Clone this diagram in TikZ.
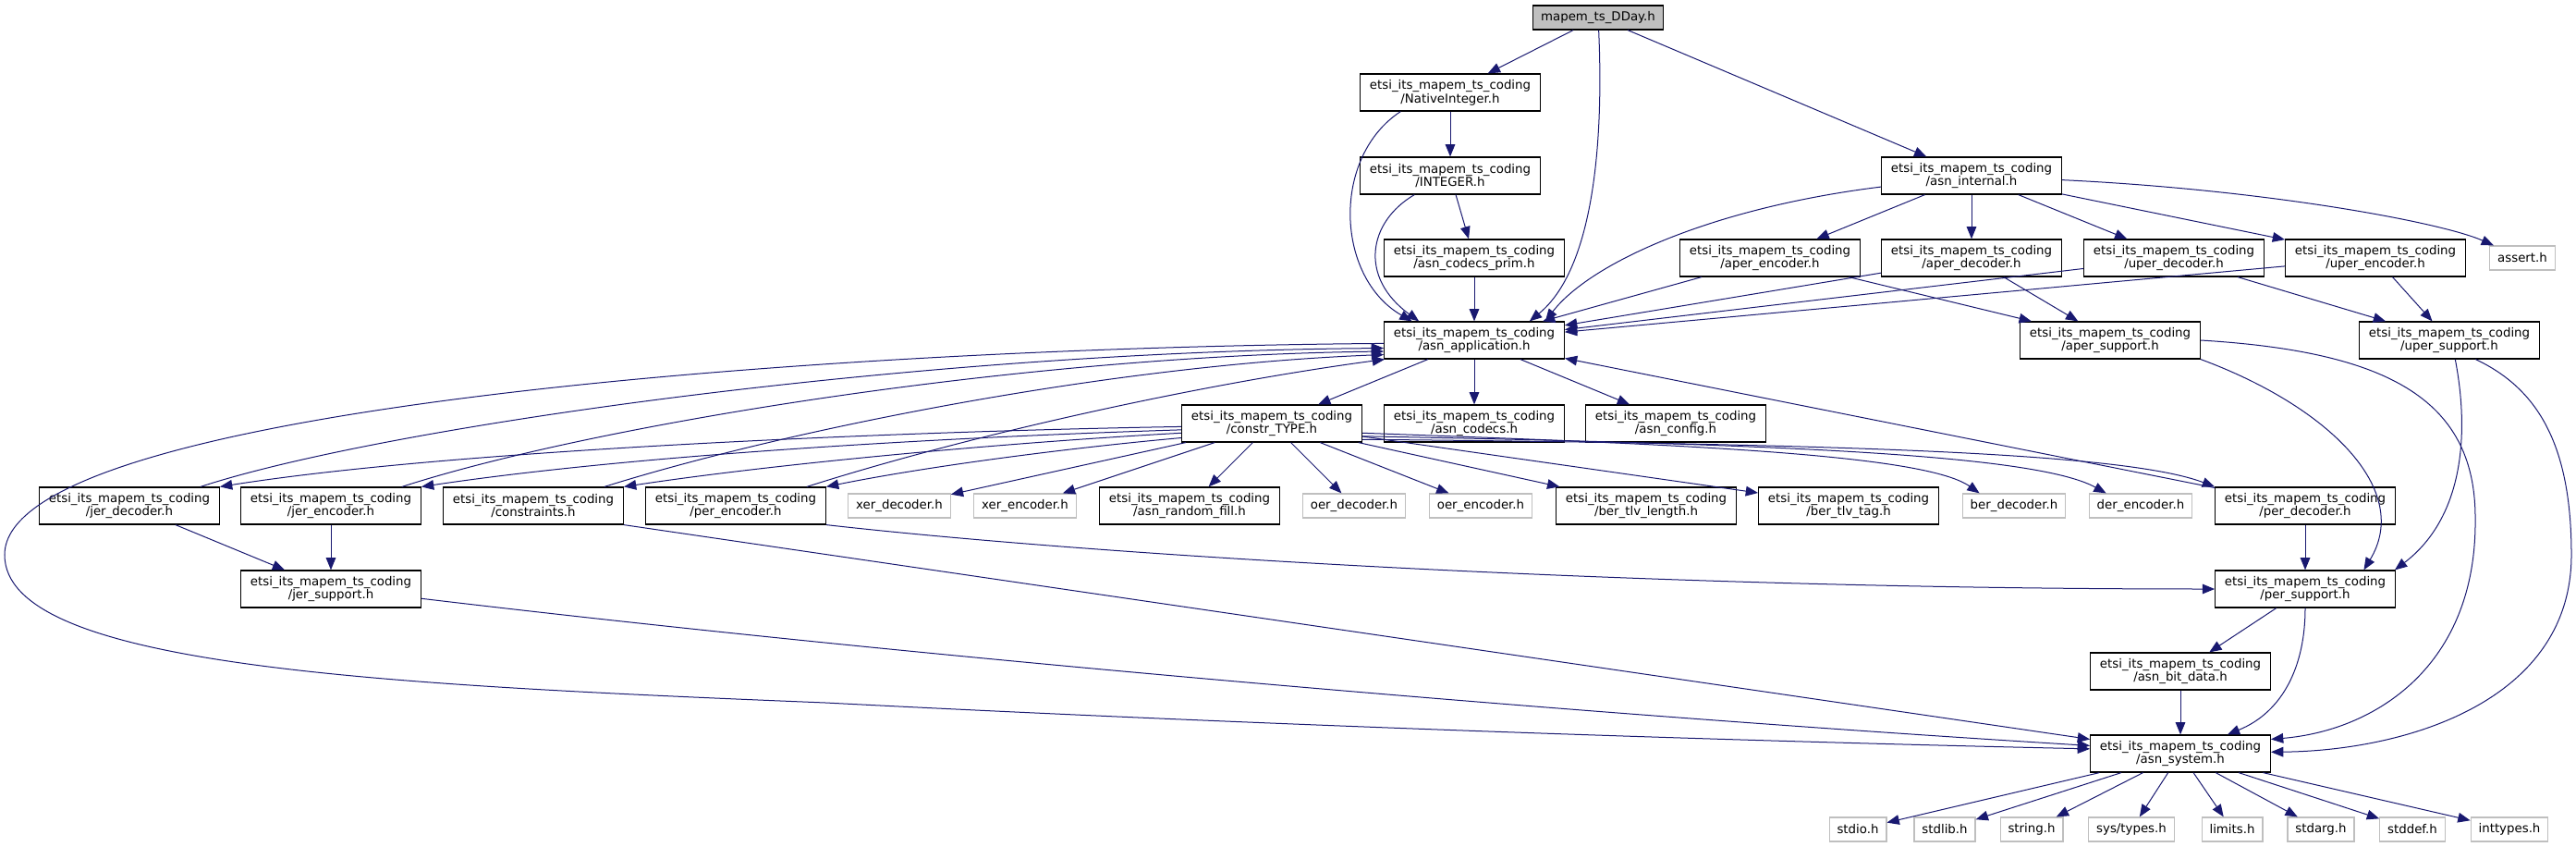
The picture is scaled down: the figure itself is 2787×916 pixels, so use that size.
\documentclass[tikz,border=0pt]{standalone}
\usepackage{fontspec}
\setmainfont{DejaVu Sans}
\usetikzlibrary{arrows.meta}
\definecolor{linkblue}{HTML}{191970}
\definecolor{grey75}{HTML}{BFBFBF}

\begin{document}
\begin{tikzpicture}[x=0.75pt,y=-0.75pt,
	file/.style={draw=black,line width=0.9pt,fill=white,minimum width=146pt,minimum height=30pt,inner sep=2pt,align=center,font=\fontsize{10}{11}\selectfont},
	sysfile/.style={draw=grey75,line width=0.9pt,fill=white,minimum height=19.5pt,inner xsep=6.3pt,inner ysep=2pt,font=\fontsize{10}{11}\selectfont},
	inc/.style={draw=linkblue,line width=0.75pt,-{Triangle[length=10pt,width=8pt]}}]
	\useasboundingbox (0,0) rectangle (2787,916);

	% files
	\node[file,fill=grey75,minimum width=0pt,minimum height=19.5pt,inner xsep=6.5pt] (dday) at (1729,19) {mapem\_ts\_DDay.h};
	\node[file] (nativeint) at (1569,100) {etsi\_its\_mapem\_ts\_coding\\/NativeInteger.h};
	\node[file] (integer) at (1569,190) {etsi\_its\_mapem\_ts\_coding\\/INTEGER.h};
	\node[file] (asninternal) at (2133,190) {etsi\_its\_mapem\_ts\_coding\\/asn\_internal.h};
	\node[file] (codecsprim) at (1595,279) {etsi\_its\_mapem\_ts\_coding\\/asn\_codecs\_prim.h};
	\node[file] (aperenc) at (1915,279) {etsi\_its\_mapem\_ts\_coding\\/aper\_encoder.h};
	\node[file] (aperdec) at (2133,279) {etsi\_its\_mapem\_ts\_coding\\/aper\_decoder.h};
	\node[file] (uperdec) at (2352,279) {etsi\_its\_mapem\_ts\_coding\\/uper\_decoder.h};
	\node[file] (uperenc) at (2570,279) {etsi\_its\_mapem\_ts\_coding\\/uper\_encoder.h};
	\node[sysfile] (assert) at (2729,279) {assert.h};
	\node[file] (asnapp) at (1595,368) {etsi\_its\_mapem\_ts\_coding\\/asn\_application.h};
	\node[file] (apersupp) at (2283,368) {etsi\_its\_mapem\_ts\_coding\\/aper\_support.h};
	\node[file] (upersupp) at (2650,368) {etsi\_its\_mapem\_ts\_coding\\/uper\_support.h};
	\node[file] (constr) at (1376,458) {etsi\_its\_mapem\_ts\_coding\\/constr\_TYPE.h};
	\node[file] (asncodecs) at (1595,458) {etsi\_its\_mapem\_ts\_coding\\/asn\_codecs.h};
	\node[file] (asnconfig) at (1813,458) {etsi\_its\_mapem\_ts\_coding\\/asn\_config.h};
	\node[file] (jerdec) at (140,547) {etsi\_its\_mapem\_ts\_coding\\/jer\_decoder.h};
	\node[file] (jerenc) at (358,547) {etsi\_its\_mapem\_ts\_coding\\/jer\_encoder.h};
	\node[file] (constraints) at (577,547) {etsi\_its\_mapem\_ts\_coding\\/constraints.h};
	\node[file] (perenc) at (796,547) {etsi\_its\_mapem\_ts\_coding\\/per\_encoder.h};
	\node[sysfile] (xerdec) at (973,547) {xer\_decoder.h};
	\node[sysfile] (xerenc) at (1109,547) {xer\_encoder.h};
	\node[file] (randfill) at (1287,547) {etsi\_its\_mapem\_ts\_coding\\/asn\_random\_fill.h};
	\node[sysfile] (oerdec) at (1465,547) {oer\_decoder.h};
	\node[sysfile] (oerenc) at (1602,547) {oer\_encoder.h};
	\node[file] (tlvlen) at (1781,547) {etsi\_its\_mapem\_ts\_coding\\/ber\_tlv\_length.h};
	\node[file] (tlvtag) at (2000,547) {etsi\_its\_mapem\_ts\_coding\\/ber\_tlv\_tag.h};
	\node[sysfile] (berdec) at (2179,547) {ber\_decoder.h};
	\node[sysfile] (derenc) at (2316,547) {der\_encoder.h};
	\node[file] (perdec) at (2494,547) {etsi\_its\_mapem\_ts\_coding\\/per\_decoder.h};
	\node[file] (jersupp) at (358,637) {etsi\_its\_mapem\_ts\_coding\\/jer\_support.h};
	\node[file] (persupp) at (2494,637) {etsi\_its\_mapem\_ts\_coding\\/per\_support.h};
	\node[file] (bitdata) at (2359,726) {etsi\_its\_mapem\_ts\_coding\\/asn\_bit\_data.h};
	\node[file] (asnsys) at (2359,815) {etsi\_its\_mapem\_ts\_coding\\/asn\_system.h};
	\node[sysfile] (stdio) at (2010,897) {stdio.h};
	\node[sysfile] (stdlib) at (2104,897) {stdlib.h};
	\node[sysfile] (string) at (2198,897) {string.h};
	\node[sysfile] (systypes) at (2306,897) {sys/types.h};
	\node[sysfile] (limits) at (2415,897) {limits.h};
	\node[sysfile] (stdarg) at (2511,897) {stdarg.h};
	\node[sysfile] (stddef) at (2610,897) {stddef.h};
	\node[sysfile] (inttypes) at (2715,897) {inttypes.h};

	% top part
	\draw[inc] (dday) -- (nativeint);
	\draw[inc] (dday) .. controls (1735,150) and (1725,290) .. (asnapp.19);
	\draw[inc] (dday) -- (asninternal);
	\draw[inc] (nativeint) -- (integer);
	\draw[inc] (nativeint.201) .. controls (1440,170) and (1445,300) .. (asnapp.163);
	\draw[inc] (integer) -- (codecsprim);
	\draw[inc] (integer.208) .. controls (1480,240) and (1470,300) .. (asnapp.161);
	\draw[inc] (codecsprim) -- (asnapp);
	\draw[inc] (asninternal) .. controls (1850,225) and (1720,285) .. (asnapp.15);
	\draw[inc] (asninternal) -- (aperenc);
	\draw[inc] (asninternal) -- (aperdec);
	\draw[inc] (asninternal) -- (uperdec);
	\draw[inc] (asninternal) -- (uperenc);
	\draw[inc] (asninternal) .. controls (2450,205) and (2640,240) .. (assert);
	\draw[inc] (aperenc) -- (asnapp);
	\draw[inc] (aperdec) -- (asnapp);
	\draw[inc] (uperdec) -- (asnapp);
	\draw[inc] (uperenc) -- (asnapp);
	\draw[inc] (aperenc) -- (apersupp);
	\draw[inc] (aperdec) -- (apersupp);
	\draw[inc] (uperdec) -- (upersupp);
	\draw[inc] (uperenc) -- (upersupp);

	% support files on the right
	\draw[inc] (apersupp.south east) .. controls (2520,440) and (2610,530) .. (persupp.18);
	\draw[inc] (upersupp.-73) .. controls (2672,470) and (2665,560) .. (persupp.12);
	\draw[inc] (apersupp.east) .. controls (2580,380) and (2678,430) .. (2678,560) .. controls (2680,720) and (2570,790) .. (asnsys.9);
	\draw[inc] (upersupp.-36) .. controls (2745,420) and (2782,480) .. (2782,600) .. controls (2782,760) and (2600,812) .. (asnsys.1);

	% asn_application
	\draw[inc] (asnapp) -- (constr);
	\draw[inc] (asnapp) -- (asncodecs);
	\draw[inc] (asnapp) -- (asnconfig);
	\draw[inc] (asnapp.182) .. controls (900,376) and (5,440) .. (5,600) .. controls (5,720) and (400,740) .. (893,760) .. controls (1400,786) and (1900,802) .. (asnsys.177);

	% constr_TYPE
	\draw[inc] (constr.182) .. controls (1000,466) and (500,485) .. (jerdec.north east);
	\draw[inc] (constr.184) .. controls (1050,472) and (700,490) .. (jerenc.north east);
	\draw[inc] (constr.186) .. controls (1100,478) and (850,500) .. (constraints.north east);
	\draw[inc] (constr.189) .. controls (1150,485) and (1000,505) .. (perenc.north east);
	\draw[inc] (constr) -- (xerdec);
	\draw[inc] (constr) -- (xerenc);
	\draw[inc] (constr) -- (randfill);
	\draw[inc] (constr) -- (oerdec);
	\draw[inc] (constr) -- (oerenc);
	\draw[inc] (constr) -- (tlvlen);
	\draw[inc] (constr) -- (tlvtag);
	\draw[inc] (constr.-6) .. controls (1800,480) and (2080,490) .. (berdec.160);
	\draw[inc] (constr.-8) .. controls (1900,480) and (2200,490) .. (derenc.160);
	\draw[inc] (constr.-10) .. controls (2000,480) and (2300,490) .. (perdec.north west);

	% back up to asn_application
	\draw[inc] (jerdec.15) .. controls (420,460) and (1000,380) .. (asnapp.185);
	\draw[inc] (jerenc.15) .. controls (640,460) and (1100,385) .. (asnapp.187);
	\draw[inc] (constraints.15) .. controls (850,465) and (1200,395) .. (asnapp.189);
	\draw[inc] (perenc.15) .. controls (1050,470) and (1300,415) .. (asnapp.192);
	\draw[inc] (perdec) -- (asnapp);

	% lower part
	\draw[inc] (jerdec) -- (jersupp);
	\draw[inc] (jerenc) -- (jersupp);
	\draw[inc] (constraints.south east) -- (asnsys.171);
	\draw[inc] (perenc.south east) .. controls (1200,602) and (1800,637) .. (persupp.west);
	\draw[inc] (perdec) -- (persupp);
	\draw[inc] (jersupp.-6) .. controls (1000,712) and (1700,772) .. (asnsys.175);
	\draw[inc] (persupp) -- (bitdata);
	\draw[inc] (persupp) .. controls (2494,720) and (2470,770) .. (asnsys);
	\draw[inc] (bitdata) -- (asnsys);
	\foreach \h in {stdio,stdlib,string,systypes,limits,stdarg,stddef,inttypes}
		\draw[inc] (asnsys) -- (\h);
\end{tikzpicture}
\end{document}
